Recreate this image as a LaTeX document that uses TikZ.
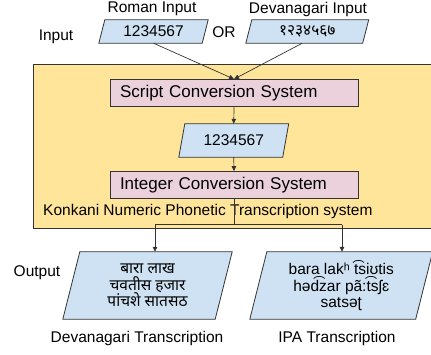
\documentclass[tikz,border=0pt]{standalone}
\usepackage{fontspec}
\setmainfont{Liberation Sans}
\newfontfamily\deva[Script=Devanagari]{Noto Sans}
\usetikzlibrary{arrows.meta,backgrounds}
\definecolor{paraBlue}{HTML}{CFE2F3}
\definecolor{boxPink}{HTML}{EAD1DC}
\definecolor{sysYellow}{HTML}{FFE599}
\definecolor{edgeGray}{HTML}{333333}
\newcommand\drawpara[2]{\path[paraedge] ([xshift=#2]#1.north west) -- ([xshift=#2]#1.north east) -- ([xshift=-#2]#1.south east) -- ([xshift=-#2]#1.south west) -- cycle;}
\begin{document}
\begin{tikzpicture}[x=1pt,y=-1pt,
 lbl/.style={inner sep=0pt, font=\fontsize{15.5}{18}\selectfont},
 para/.style={inner sep=0pt, align=center, font=\fontsize{15.5}{16.5}\selectfont},
 devpara/.style={para, font=\deva\fontsize{15.5}{16.5}\selectfont},
 sysbox/.style={draw=edgeGray, fill=boxPink, line width=0.8pt, text width=228pt, inner xsep=10pt, inner ysep=0pt, minimum height=27pt, align=left, font=\fontsize{17}{20}\selectfont},
 paraedge/.style={draw=edgeGray, fill=paraBlue, line width=0.8pt},
 arr/.style={draw=edgeGray, line width=0.7pt, -{Triangle[length=5pt,width=4.5pt]}},
 conn/.style={draw=edgeGray, line width=0.7pt}]
\useasboundingbox (0,0) rectangle (431,354);
% labels
\node[lbl] (romanLbl) at (152,9) {Roman Input};
\node[lbl] (devLbl) at (308,9) {Devanagari Input};
\node[lbl] (inLbl) at (56,37) {Input};
\node[lbl] (orLbl) at (224,32) {OR};
% inputs
\node[para, minimum width=103pt, minimum height=23pt] (romanIn) at (153.5,31.5) {1234567};
\node[devpara, minimum width=116.5pt, minimum height=23pt] (devIn) at (307.25,31.5) {१२३४५६७};
% system
\node[sysbox] (scs) at (234,93) {Script Conversion System};
\node[para, minimum width=103.5pt, minimum height=33pt] (mid) at (233.75,140.5) {1234567};
\node[sysbox] (ics) at (234,185) {Integer Conversion System};
\node[lbl, anchor=west] (sysLbl) at (43,211) {Konkani Numeric Phonetic Transcription system};
% outputs
\node[devpara, minimum width=152pt, minimum height=67pt] (devOut) at (147.5,285.5) {बारा लाख\\ चवतीस हजार\\ पांचशे सातसठ};
\node[para, minimum width=165.5pt, minimum height=67pt] (ipaOut) at (341.25,285.5) {bara lakʰ t͡siʊtis\\ həd͡zar pã:t͡sʃɛ\\ satsəʈ};
\node[lbl] (outLbl) at (37,273) {Output};
\node[lbl] (devCap) at (137,338) {Devanagari Transcription};
\node[lbl] (ipaCap) at (337,338) {IPA Transcription};
% connectors
\draw[arr] (romanIn.south) -- (scs.north);
\draw[arr] ([xshift=-5pt]devIn.south) -- (scs.north);
\draw[arr] (scs.south) -- (mid.north);
\draw[arr] (mid.south) -- (ics.north);
\coordinate (jc) at (234,224.5);
\coordinate (jl) at (155,224.5);
\coordinate (jr) at (342,224.5);
\draw[conn] (ics.south) -- (jc);
\draw[conn] (jl) -- (jr);
\draw[arr] (jl) -- (jl |- devOut.north);
\draw[arr] (jr) -- (jr |- ipaOut.north);
% backgrounds
\begin{scope}[on background layer]
\node[draw=edgeGray, fill=sysYellow, line width=0.8pt, minimum width=420pt, minimum height=164pt, inner sep=0pt] (sys) at (243,146) {};
\drawpara{romanIn}{3pt}
\drawpara{devIn}{3pt}
\drawpara{mid}{3pt}
\drawpara{devOut}{8.5pt}
\drawpara{ipaOut}{8.5pt}
\end{scope}
\end{tikzpicture}
\end{document}
